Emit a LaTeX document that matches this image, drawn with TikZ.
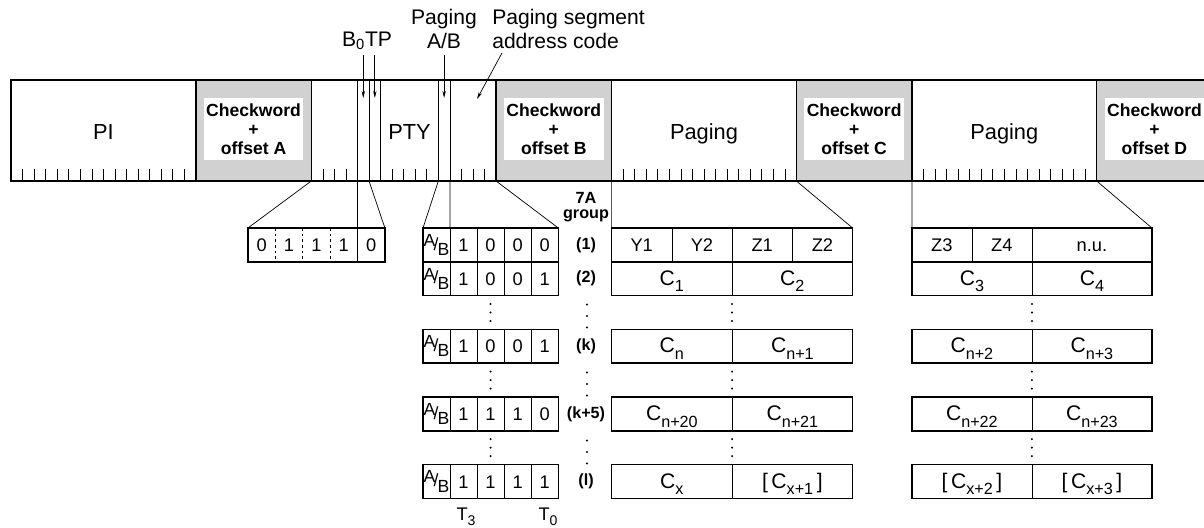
\documentclass[tikz,border=0pt]{standalone}
\usepackage{fontspec}
\setmainfont{Liberation Sans}
\usetikzlibrary{arrows.meta}
\definecolor{chkgray}{gray}{0.82}
\newcommand{\csub}[1]{C\raisebox{-0.6ex}{\fontsize{11.5}{13}\selectfont#1}}
\newcommand{\tsub}[1]{T\raisebox{-0.6ex}{\fontsize{10}{11}\selectfont#1}}
\newcommand{\aslashb}{\raisebox{0.4ex}{A}\kern-0.1em/\kern-0.04em\raisebox{-0.6ex}{B}}
\tikzset{
  blkline/.style={line width=1pt},
  bitline/.style={line width=0.5pt},
  tickline/.style={line width=0.45pt},
  funnel/.style={line width=0.5pt},
  cellbox/.style={line width=1.1pt},
  cellsep/.style={line width=0.45pt},
  pointer/.style={line width=0.5pt,-{Stealth[length=5pt,width=2.4pt]}},
  blklabel/.style={font=\fontsize{15.5}{17}\selectfont,anchor=base,inner sep=0pt},
  toplabel/.style={font=\fontsize{15}{17}\selectfont,inner sep=0pt},
  chkword/.style={font=\fontsize{12.5}{13.6}\selectfont\bfseries,align=center,inner sep=0pt},
  celltext/.style={font=\fontsize{13}{15}\selectfont,anchor=base,inner sep=0pt},
  ctext/.style={font=\fontsize{15}{17}\selectfont,anchor=base,inner sep=0pt},
  grp/.style={font=\fontsize{11.5}{11}\selectfont\bfseries,inner sep=0pt,align=center},
}
\begin{document}
\begin{tikzpicture}[x=0.025cm,y=-0.025cm]
\useasboundingbox (0,0) rectangle (1204,527);
\pgfmathsetmacro{\kbit}{11.55}
\pgfmathsetmacro{\kblk}{26*\kbit}
\pgfmathsetmacro{\krow}{33.8}
\pgfmathsetmacro{\kB}{11+\kblk}
% the four blocks of the group
\foreach \i/\info/\kpos/\off in {0/PI/8/A,1/PTY/8.5/B,2/Paging/8/C,3/Paging/8/D}{
  \pgfmathsetmacro{\kx}{11+\i*\kblk}
  \pgfmathsetmacro{\kc}{\kx+16*\kbit}
  \pgfmathsetmacro{\ke}{\kx+\kblk}
  \fill[chkgray] (\kc,80) rectangle (\ke,181);
  \fill[white] (\kc+8,98) rectangle (\ke-8,160);
  \node[chkword] (chk\off) at ({(\kc+\ke)/2},129) {Checkword\\+\\offset \off};
  \node[blklabel] (info\off) at (\kx+\kpos*\kbit,139) {\info};
  \foreach \t in {1,...,15} \draw[tickline] (\kx+\t*\kbit,181) -- ++(0,-12);
  \draw[blkline] (\kx,80) rectangle (\ke,181) (\kc,80) -- (\kc,181);
}
\foreach \t in {4,5,6,11,12} \draw[bitline] (\kB+\t*\kbit,80) -- (\kB+\t*\kbit,181);
\foreach \t in {0,4,5,11,12,16} \coordinate (b\t) at (\kB+\t*\kbit,181);
\coordinate (c0) at (11+2*\kblk,181);
\coordinate (c16) at (11+2*\kblk+16*\kbit,181);
\coordinate (d0) at (11+3*\kblk,181);
\coordinate (d16) at (11+3*\kblk+16*\kbit,181);
% labels and pointers on top
\node[toplabel,anchor=base] (botp) at (367,46) {B\textsubscript{0}TP};
\node[toplabel,anchor=north,align=center] (pagab) at (444,9) {Paging\\A/B};
\node[toplabel,anchor=north west,align=left] (pagseg) at (492,9) {Paging segment\\address code};
\coordinate (sB0) at (\kB+4.5*\kbit,55);
\coordinate (tB0) at (\kB+4.5*\kbit,98);
\coordinate (sTP) at (\kB+5.5*\kbit,55);
\coordinate (tTP) at (\kB+5.5*\kbit,98);
\coordinate (sAB) at (\kB+11.5*\kbit,55);
\coordinate (tAB) at (\kB+11.5*\kbit,98);
\coordinate (sSA) at (502,53);
\coordinate (tSA) at (477,99);
\draw[pointer] (sB0) -- (tB0);
\draw[pointer] (sTP) -- (tTP);
\draw[pointer] (sAB) -- (tAB);
\draw[pointer] (sSA) -- (tSA);
% group type code + B0
\pgfmathsetmacro{\kg}{27.4}
\pgfmathsetmacro{\kgx}{\kB+4*\kbit-4*\kg}
\coordinate (gnw) at (\kgx,228);
\coordinate (gsep) at (\kgx+4*\kg,228);
\coordinate (gne) at (\kgx+5*\kg,228);
\draw[cellbox] (gnw) rectangle ++(5*\kg,\krow);
\foreach \c in {1,2,3} \draw[cellsep,dash pattern=on 2pt off 2pt] (\kgx+\c*\kg,228) -- ++(0,\krow);
\draw[cellsep] (gsep) -- ++(0,\krow);
\foreach \b [count=\c from 0] in {0,1,1,1,0}
  \node[celltext] (gd\c) at (\kgx+\c*\kg+\kg/2,228+\krow/2+6.5) {\b};
\draw[funnel] (b0) -- (gnw) (b5) -- (gne) (b4) -- (gsep);
% A/B + segment address table
\pgfmathsetmacro{\kax}{\kB+12*\kbit}
\pgfmathsetmacro{\kac}{27.1}
\coordinate (anw) at (423,228);
\coordinate (asep) at (\kax,228);
\coordinate (ane) at (\kax+4*\kac,228);
\draw[funnel] (b11) -- (anw) (b16) -- (ane) (b12) -- (asep);
\node[grp,anchor=north] (grphead) at (586,192) {7A\\group};
\foreach \r/\ba/\bb/\bc/\bd/\g in {0/1/0/0/0/{(1)},1/1/0/0/1/{(2)},3/1/0/0/1/{(k)},5/1/1/1/0/{(k+5)},7/1/1/1/1/{(l)}}{
  \pgfmathsetmacro{\ky}{228+\r*\krow}
  \draw[cellbox] (423,\ky) rectangle (\kax+4*\kac,\ky+\krow);
  \foreach \c in {0,...,3} \draw[cellsep] (\kax+\c*\kac,\ky) -- ++(0,\krow);
  \node[inner sep=0pt,font=\fontsize{12.5}{14}\selectfont] (ab\r) at (436.5,\ky+\krow/2) {\aslashb};
  \foreach \b [count=\c from 0] in {\ba,\bb,\bc,\bd}
    \node[celltext] (bit\r\c) at (\kax+\c*\kac+\kac/2,\ky+\krow/2+6.5) {\b};
  \node[grp] (grp\r) at (586,\ky+\krow/2) {\g};
}
\node[celltext,font=\fontsize{13}{15}\selectfont] (t3) at (466,520) {\tsub{3}};
\node[celltext,font=\fontsize{13}{15}\selectfont] (t0) at (548,520) {\tsub{0}};
% paging content tables
\pgfmathsetmacro{\kmx}{11+2*\kblk}
\pgfmathsetmacro{\krx}{11+3*\kblk}
\coordinate (mnw) at (\kmx,228);
\coordinate (mne) at (\kmx+241,228);
\coordinate (rnw) at (\krx,228);
\coordinate (rne) at (\krx+240,228);
\draw[funnel] (c0) -- (mnw) (c16) -- (mne) (d0) -- (rnw) (d16) -- (rne);
\draw[cellbox] (\kmx,228) rectangle ++(241,\krow) (\krx,228) rectangle ++(240,\krow);
\draw[cellsep] (\kmx+60.25,228) -- ++(0,\krow) (\kmx+120.5,228) -- ++(0,\krow)
  (\kmx+180.75,228) -- ++(0,\krow) (\krx+60,228) -- ++(0,\krow) (\krx+120,228) -- ++(0,\krow);
\foreach \t [count=\c from 0] in {Y1,Y2,Z1,Z2}
  \node[celltext] (yz\c) at (\kmx+\c*60.25+30.1,228+\krow/2+6.5) {\t};
\node[celltext] (z3) at (\krx+30,228+\krow/2+6.5) {Z3};
\node[celltext] (z4) at (\krx+90,228+\krow/2+6.5) {Z4};
\node[celltext] (nu) at (\krx+180,228+\krow/2+6.5) {n.u.};
\foreach \r/\ca/\cb/\cc/\cd in {1/{\csub{1}}/{\csub{2}}/{\csub{3}}/{\csub{4}},3/{\csub{n}}/{\csub{n+1}}/{\csub{n+2}}/{\csub{n+3}},5/{\csub{n+20}}/{\csub{n+21}}/{\csub{n+22}}/{\csub{n+23}},7/{\csub{x}}/{[\,\csub{x+1}\,]}/{[\,\csub{x+2}\,]}/{[\,\csub{x+3}\,]}}{
  \pgfmathsetmacro{\ky}{228+\r*\krow}
  \draw[cellbox] (\kmx,\ky) rectangle ++(241,\krow) (\krx,\ky) rectangle ++(240,\krow);
  \draw[cellsep] (\kmx+120.5,\ky) -- ++(0,\krow) (\krx+120,\ky) -- ++(0,\krow);
  \node[ctext] (ma\r) at (\kmx+60.25,\ky+\krow/2+6.5) {\ca};
  \node[ctext] (mb\r) at (\kmx+180.75,\ky+\krow/2+6.5) {\cb};
  \node[ctext] (ra\r) at (\krx+60,\ky+\krow/2+6.5) {\cc};
  \node[ctext] (rb\r) at (\krx+180,\ky+\krow/2+6.5) {\cd};
}
% dots between the rows
\foreach \yc in {312.5,380.1,447.7}
  \foreach \d in {-8.5,0,8.5}
    \fill (490.6,\yc+\d) circle[radius=0.8pt] (\kmx+120.5,\yc+\d) circle[radius=0.8pt]
      (\krx+120,\yc+\d) circle[radius=0.8pt];
\foreach \yc in {316,384,452}
  \foreach \d in {-11.5,0,11.5}
    \fill (587,\yc+\d) circle[radius=0.8pt];
\end{tikzpicture}
\end{document}
